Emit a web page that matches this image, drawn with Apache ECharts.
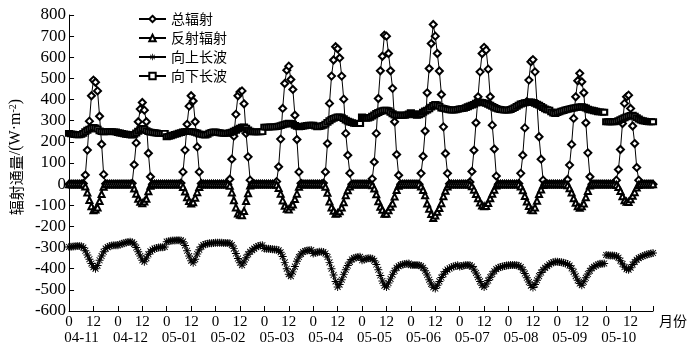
<!DOCTYPE html>
<html>
<head>
<meta charset="utf-8">
<script src="https://cdn.jsdelivr.net/npm/echarts@6.0.0/dist/echarts.min.js"></script>
<style>
  html, body { margin: 0; padding: 0; background: #fff; }
  #chart { width: 690px; height: 351px; }
</style>
</head>
<body>
<div id="chart"></div>
<script>
// 日期（每天24个小时值）
var dates = ['04-11', '04-12', '05-01', '05-02', '05-03', '05-04', '05-05', '05-06', '05-07', '05-08', '05-09', '05-10']
var hourLabels = ['0', '12']
var yTicks = { min: -600, max: 800, step: 100 }
// 这些天之前数据不连续
var gapDays = [2, 4, 6, 11]

var names = ['总辐射', '反射辐射', '向上长波', '向下长波']

// 总辐射 W/m2, 每行一天 0-23时
var globalRad = [
  [0, 0, 0, 0, 0, 0, 0, 3, 43, 161, 298, 418, 492, 482, 441, 321, 189, 46, 2, 0, 0, 0, 0, 0],
  [0, 0, 0, 0, 0, 0, 0, 4, 92, 195, 295, 355, 386, 350, 295, 146, 35, 0, 0, 0, 0, 0, 0, 0],
  [0, 0, 0, 0, 0, 0, 0, 5, 58, 161, 283, 369, 418, 393, 295, 176, 58, 3, 0, 0, 0, 0, 0, 0],
  [0, 0, 0, 0, 0, 0, 0, 23, 118, 227, 330, 418, 436, 441, 380, 240, 129, 19, 0, 0, 0, 0, 0, 0],
  [0, 0, 0, 0, 0, 0, 12, 82, 213, 358, 476, 539, 558, 495, 448, 326, 211, 58, 4, 0, 0, 0, 0, 0],
  [0, 0, 0, 0, 0, 5, 58, 192, 382, 511, 587, 650, 640, 597, 511, 402, 240, 137, 52, 0, 0, 0, 0, 0],
  [0, 0, 0, 0, 0, 25, 105, 240, 405, 536, 605, 705, 700, 618, 536, 453, 295, 140, 42, 0, 0, 0, 0, 0],
  [0, 0, 0, 0, 0, 51, 132, 251, 432, 547, 665, 755, 700, 618, 535, 424, 271, 145, 51, 2, 0, 0, 0, 0],
  [0, 0, 0, 0, 0, 10, 60, 160, 290, 413, 531, 618, 647, 634, 544, 413, 279, 166, 38, 0, 0, 0, 0, 0],
  [0, 0, 0, 0, 0, 3, 51, 137, 266, 390, 492, 579, 589, 531, 380, 224, 118, 19, 0, 0, 0, 0, 0, 0],
  [0, 0, 0, 0, 0, 22, 90, 188, 311, 413, 489, 524, 484, 432, 290, 148, 35, 0, 0, 0, 0, 0, 0, 0],
  [0, 0, 0, 0, 0, 19, 69, 164, 287, 382, 413, 421, 358, 275, 192, 79, 19, 0, 0, 0, 0, 0, 0, 0]
]

// 反射辐射
var reflectRad = [
  [0, 0, 0, 0, 0, 0, 0, -1, -11, -40, -75, -104, -123, -120, -110, -80, -47, -12, 0, 0, 0, 0, 0, 0],
  [0, 0, 0, 0, 0, 0, 0, -1, -21, -45, -69, -83, -90, -82, -69, -34, -8, 0, 0, 0, 0, 0, 0, 0],
  [0, 0, 0, 0, 0, 0, 0, -1, -13, -35, -62, -80, -91, -86, -64, -38, -13, -1, 0, 0, 0, 0, 0, 0],
  [0, 0, 0, 0, 0, 0, 0, -8, -39, -76, -110, -139, -145, -147, -127, -80, -43, -6, 0, 0, 0, 0, 0, 0],
  [0, 0, 0, 0, 0, 0, -3, -18, -46, -77, -102, -116, -120, -106, -96, -70, -45, -12, -1, 0, 0, 0, 0, 0],
  [0, 0, 0, 0, 0, -1, -12, -41, -82, -110, -126, -140, -138, -128, -110, -86, -52, -29, -11, 0, 0, 0, 0, 0],
  [0, 0, 0, 0, 0, -5, -21, -48, -81, -107, -121, -140, -140, -124, -107, -91, -59, -28, -8, 0, 0, 0, 0, 0],
  [0, 0, 0, 0, 0, -11, -28, -53, -92, -116, -141, -160, -148, -131, -113, -90, -57, -31, -11, 0, 0, 0, 0, 0],
  [0, 0, 0, 0, 0, -2, -10, -26, -47, -67, -87, -101, -105, -103, -89, -67, -45, -27, -6, 0, 0, 0, 0, 0],
  [0, 0, 0, 0, 0, -1, -11, -29, -56, -82, -103, -121, -123, -111, -79, -47, -25, -4, 0, 0, 0, 0, 0, 0],
  [0, 0, 0, 0, 0, -5, -19, -40, -67, -88, -105, -112, -104, -92, -62, -32, -7, 0, 0, 0, 0, 0, 0, 0],
  [0, 0, 0, 0, 0, -4, -14, -33, -57, -76, -83, -84, -72, -55, -38, -16, -4, 0, 0, 0, 0, 0, 0, 0]
]

// 向上长波
var upLong = [
  [-297, -296, -295, -294, -293, -293, -294, -300, -315, -335, -355, -375, -393, -400, -385, -360, -340, -320, -305, -298, -293, -290, -289, -289],
  [-289, -285, -282, -279, -276, -274, -273, -275, -283, -300, -320, -340, -360, -367, -350, -332, -318, -310, -305, -302, -300, -299, -298, -297],
  [-272, -270, -268, -267, -266, -265, -265, -266, -272, -290, -315, -340, -362, -372, -355, -330, -310, -296, -288, -284, -282, -280, -279, -278],
  [-277, -277, -277, -277, -278, -278, -278, -280, -288, -305, -328, -352, -372, -383, -368, -348, -332, -320, -312, -305, -298, -293, -290, -289],
  [-304, -305, -306, -307, -308, -309, -310, -313, -322, -342, -370, -400, -426, -435, -415, -390, -365, -345, -330, -321, -316, -314, -313, -312],
  [-328, -325, -322, -320, -320, -321, -328, -345, -370, -400, -430, -460, -486, -475, -452, -428, -405, -385, -368, -356, -350, -347, -345, -344],
  [-360, -356, -353, -351, -351, -353, -362, -380, -405, -432, -458, -480, -486, -468, -448, -428, -410, -396, -388, -383, -380, -378, -376, -375],
  [-383, -383, -383, -383, -384, -387, -395, -410, -430, -452, -472, -488, -494, -478, -460, -442, -426, -413, -404, -399, -393, -389, -386, -384],
  [-390, -387, -385, -383, -383, -384, -390, -402, -420, -440, -460, -478, -486, -472, -456, -440, -425, -412, -402, -396, -392, -390, -387, -385],
  [-384, -383, -383, -383, -384, -386, -392, -405, -423, -443, -463, -480, -489, -475, -455, -435, -418, -405, -396, -388, -380, -374, -369, -367],
  [-367, -368, -370, -372, -375, -378, -385, -398, -415, -435, -455, -470, -478, -462, -443, -425, -410, -398, -391, -385, -380, -377, -376, -375],
  [-335, -336, -337, -338, -339, -340, -348, -362, -378, -392, -402, -405, -395, -380, -368, -358, -350, -345, -340, -336, -333, -330, -328, -326]
]

// 向下长波
var downLong = [
  [240, 238, 236, 234, 233, 233, 235, 240, 248, 255, 260, 265, 268, 266, 260, 252, 248, 247, 247, 248, 248, 248, 247, 247],
  [244, 242, 240, 238, 236, 234, 233, 232, 235, 242, 250, 258, 263, 260, 253, 248, 246, 245, 243, 242, 240, 240, 240, 240],
  [224, 226, 229, 232, 235, 238, 241, 244, 247, 248, 249, 249, 248, 247, 245, 242, 238, 235, 233, 232, 236, 241, 245, 247],
  [247, 245, 243, 241, 240, 240, 241, 243, 246, 250, 255, 260, 265, 270, 271, 265, 257, 250, 247, 247, 247, 247, 247, 248],
  [270, 270, 270, 271, 271, 271, 272, 274, 277, 280, 283, 286, 288, 287, 284, 278, 273, 271, 272, 274, 276, 278, 279, 279],
  [279, 275, 271, 272, 274, 278, 284, 292, 300, 306, 311, 315, 318, 318, 315, 310, 303, 298, 294, 291, 288, 287, 287, 287],
  [318, 314, 311, 312, 316, 322, 328, 334, 339, 343, 347, 350, 350, 347, 340, 333, 327, 326, 326, 326, 326, 326, 328, 332],
  [338, 333, 328, 326, 328, 333, 340, 346, 350, 356, 364, 372, 377, 375, 368, 360, 358, 356, 354, 352, 350, 350, 351, 354],
  [356, 357, 358, 362, 366, 370, 374, 377, 383, 389, 388, 386, 384, 382, 378, 373, 368, 363, 358, 355, 353, 351, 350, 350],
  [350, 353, 357, 362, 368, 374, 379, 382, 385, 387, 389, 389, 386, 382, 378, 374, 368, 362, 356, 352, 350, 342, 336, 334],
  [338, 342, 345, 348, 351, 354, 356, 358, 360, 362, 364, 365, 366, 364, 360, 355, 351, 350, 347, 345, 342, 342, 341, 340],
  [295, 295, 295, 295, 295, 297, 300, 305, 310, 314, 318, 322, 325, 326, 322, 315, 308, 303, 300, 298, 296, 295, 295, 295]
]

var numFont = 'Liberation Serif'
var cnFont = 'Noto Sans CJK SC'
var lastHour = dates.length * 24 - 1

// 把每天的小时值连成 [小时序号, 值]
function toSeries (days) {
  var out = []
  days.forEach(function (day, d) {
    if (gapDays.indexOf(d) >= 0) {
      out.push([d * 24 - 0.5, '-'])
    }
    day.forEach(function (v, h) {
      out.push([d * 24 + h, v])
    })
  })
  return out
}

function makeLine (name, data, symbol, size, filled) {
  return {
    name: name,
    type: 'line',
    data: toSeries(data),
    symbol: symbol,
    symbolSize: size,
    showAllSymbol: true,
    connectNulls: false,
    lineStyle: { color: '#000', width: 1 },
    itemStyle: { color: '#000', borderColor: '#000', borderWidth: filled ? 0 : 1 }
  }
}

// 星号：四条细条组成的实心图形
var asterisk = 'path://M4.4,0L5.6,0L5.6,10L4.4,10Z' +
  'M0,4.4L10,4.4L10,5.6L0,5.6Z' +
  'M0.9,1.7L1.7,0.9L9.1,8.3L8.3,9.1Z' +
  'M0.9,8.3L8.3,0.9L9.1,1.7L1.7,9.1Z'
var markers = ['emptyDiamond', 'emptyTriangle', asterisk, 'emptyRect']

var myChart = echarts.init(document.getElementById('chart'))
myChart.setOption({
  backgroundColor: '#fff',
  animation: false,
  grid: { left: 63, right: 34, top: 15, bottom: 40 },
  legend: {
    orient: 'vertical',
    left: 133,
    top: 7,
    itemWidth: 27,
    itemHeight: 8,
    itemGap: 5,
    data: names,
    textStyle: { fontFamily: cnFont, fontSize: 14, color: '#000' }
  },
  xAxis: [
    {
      type: 'value',
      min: 0,
      max: lastHour,
      interval: 12,
      name: '月份',
      nameLocation: 'end',
      nameGap: 6,
      nameTextStyle: { fontFamily: cnFont, fontSize: 14, color: '#000', verticalAlign: 'top', padding: [3, 0, 0, 0] },
      axisLine: { onZero: false, lineStyle: { color: '#000', width: 1 } },
      axisTick: { inside: true, length: 5, lineStyle: { color: '#000' } },
      splitLine: { show: false },
      axisLabel: {
        margin: 4,
        color: '#000',
        fontFamily: numFont,
        fontSize: 15,
        formatter: function (v) {
          if (v % 24 === 0) return hourLabels[0]
          if (v % 12 === 0) return hourLabels[1]
          return ''
        }
      }
    },
    {
      type: 'value',
      position: 'bottom',
      offset: 16,
      min: 0,
      max: lastHour,
      interval: 24,
      axisLine: { show: false, onZero: false },
      axisTick: { show: false },
      splitLine: { show: false },
      axisLabel: {
        margin: 4,
        color: '#000',
        fontFamily: numFont,
        fontSize: 15,
        padding: [0, 0, 0, 25],
        formatter: function (v) {
          return v % 24 === 0 ? dates[v / 24] : ''
        }
      }
    }
  ],
  yAxis: {
    type: 'value',
    min: yTicks.min,
    max: yTicks.max,
    interval: yTicks.step,
    name: '{a|辐射通量}{b|/(W·m}{c|-2}{b|)}',
    nameLocation: 'middle',
    nameRotate: 90,
    nameGap: 40,
    nameTextStyle: {
      color: '#000',
      padding: [0, 0, 0, 12],
      rich: {
        a: { fontFamily: cnFont, fontSize: 15, color: '#000' },
        b: { fontFamily: numFont, fontSize: 16, color: '#000' },
        c: { fontFamily: numFont, fontSize: 10, color: '#000', verticalAlign: 'top', padding: [0, 0, 6, 0] }
      }
    },
    axisLine: { show: true, onZero: false, lineStyle: { color: '#000', width: 1 } },
    axisTick: { show: true, inside: true, length: 5, lineStyle: { color: '#000' } },
    splitLine: { show: false },
    axisLabel: { margin: 3, color: '#000', fontFamily: numFont, fontSize: 17 }
  },
  series: [
    makeLine(names[0], globalRad, markers[0], [7, 7]),
    makeLine(names[1], reflectRad, markers[1], 6),
    makeLine(names[2], upLong, markers[2], 8, true),
    makeLine(names[3], downLong, markers[3], [6, 5])
  ]
})
</script>
</body>
</html>
